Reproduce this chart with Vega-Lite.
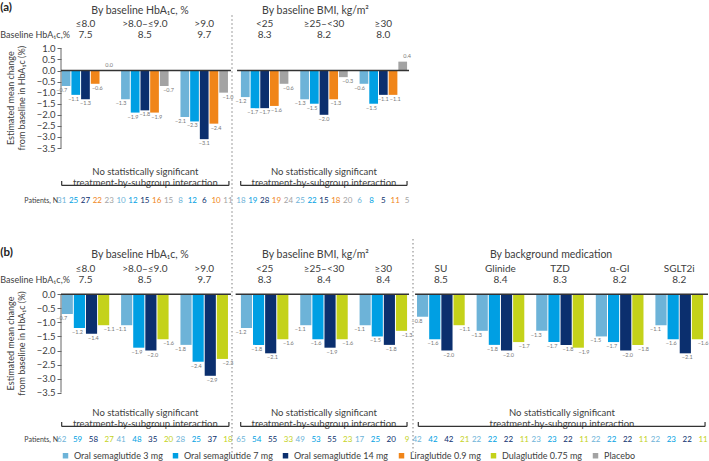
{
"$schema":"https://vega.github.io/schema/vega-lite/v6.json",
"padding":0,
"spacing":0,
"config":{"font":"Lato","view":{"stroke":null},"concat":{"spacing":0}},
"datasets":{
"one":[{}],
"a1":[
{"g":"≤8.0","b":"7.5","t":"Oral semaglutide 3 mg","v":-0.7,"n":31},
{"g":"≤8.0","b":"7.5","t":"Oral semaglutide 7 mg","v":-1.1,"n":25},
{"g":"≤8.0","b":"7.5","t":"Oral semaglutide 14 mg","v":-1.3,"n":27},
{"g":"≤8.0","b":"7.5","t":"Liraglutide 0.9 mg","v":-0.6,"n":22},
{"g":"≤8.0","b":"7.5","t":"Placebo","v":0.0,"n":23},
{"g":">8.0–≤9.0","b":"8.5","t":"Oral semaglutide 3 mg","v":-1.3,"n":10},
{"g":">8.0–≤9.0","b":"8.5","t":"Oral semaglutide 7 mg","v":-1.9,"n":12},
{"g":">8.0–≤9.0","b":"8.5","t":"Oral semaglutide 14 mg","v":-1.8,"n":15},
{"g":">8.0–≤9.0","b":"8.5","t":"Liraglutide 0.9 mg","v":-1.9,"n":16},
{"g":">8.0–≤9.0","b":"8.5","t":"Placebo","v":-0.7,"n":15},
{"g":">9.0","b":"9.7","t":"Oral semaglutide 3 mg","v":-2.1,"n":8},
{"g":">9.0","b":"9.7","t":"Oral semaglutide 7 mg","v":-2.3,"n":12},
{"g":">9.0","b":"9.7","t":"Oral semaglutide 14 mg","v":-3.1,"n":6},
{"g":">9.0","b":"9.7","t":"Liraglutide 0.9 mg","v":-2.4,"n":10},
{"g":">9.0","b":"9.7","t":"Placebo","v":-1.0,"n":11}],
"a2":[
{"g":"<25","b":"8.3","t":"Oral semaglutide 3 mg","v":-1.2,"n":18},
{"g":"<25","b":"8.3","t":"Oral semaglutide 7 mg","v":-1.7,"n":19},
{"g":"<25","b":"8.3","t":"Oral semaglutide 14 mg","v":-1.7,"n":28},
{"g":"<25","b":"8.3","t":"Liraglutide 0.9 mg","v":-1.6,"n":19},
{"g":"<25","b":"8.3","t":"Placebo","v":-0.6,"n":24},
{"g":"≥25–<30","b":"8.2","t":"Oral semaglutide 3 mg","v":-1.3,"n":25},
{"g":"≥25–<30","b":"8.2","t":"Oral semaglutide 7 mg","v":-1.5,"n":22},
{"g":"≥25–<30","b":"8.2","t":"Oral semaglutide 14 mg","v":-2.0,"n":15},
{"g":"≥25–<30","b":"8.2","t":"Liraglutide 0.9 mg","v":-1.3,"n":18},
{"g":"≥25–<30","b":"8.2","t":"Placebo","v":-0.3,"n":20},
{"g":"≥30","b":"8.0","t":"Oral semaglutide 3 mg","v":-0.6,"n":6},
{"g":"≥30","b":"8.0","t":"Oral semaglutide 7 mg","v":-1.5,"n":8},
{"g":"≥30","b":"8.0","t":"Oral semaglutide 14 mg","v":-1.1,"n":5},
{"g":"≥30","b":"8.0","t":"Liraglutide 0.9 mg","v":-1.1,"n":11},
{"g":"≥30","b":"8.0","t":"Placebo","v":0.4,"n":5}],
"b1":[
{"g":"≤8.0","b":"7.5","t":"Oral semaglutide 3 mg","v":-0.7,"n":62},
{"g":"≤8.0","b":"7.5","t":"Oral semaglutide 7 mg","v":-1.2,"n":59},
{"g":"≤8.0","b":"7.5","t":"Oral semaglutide 14 mg","v":-1.4,"n":58},
{"g":"≤8.0","b":"7.5","t":"Dulaglutide 0.75 mg","v":-1.1,"n":27},
{"g":">8.0–≤9.0","b":"8.5","t":"Oral semaglutide 3 mg","v":-1.1,"n":41},
{"g":">8.0–≤9.0","b":"8.5","t":"Oral semaglutide 7 mg","v":-1.9,"n":48},
{"g":">8.0–≤9.0","b":"8.5","t":"Oral semaglutide 14 mg","v":-2.0,"n":35},
{"g":">8.0–≤9.0","b":"8.5","t":"Dulaglutide 0.75 mg","v":-1.6,"n":20},
{"g":">9.0","b":"9.7","t":"Oral semaglutide 3 mg","v":-1.8,"n":28},
{"g":">9.0","b":"9.7","t":"Oral semaglutide 7 mg","v":-2.4,"n":25},
{"g":">9.0","b":"9.7","t":"Oral semaglutide 14 mg","v":-2.9,"n":37},
{"g":">9.0","b":"9.7","t":"Dulaglutide 0.75 mg","v":-2.3,"n":18}],
"b2":[
{"g":"<25","b":"8.3","t":"Oral semaglutide 3 mg","v":-1.2,"n":65},
{"g":"<25","b":"8.3","t":"Oral semaglutide 7 mg","v":-1.8,"n":54},
{"g":"<25","b":"8.3","t":"Oral semaglutide 14 mg","v":-2.1,"n":55},
{"g":"<25","b":"8.3","t":"Dulaglutide 0.75 mg","v":-1.6,"n":33},
{"g":"≥25–<30","b":"8.4","t":"Oral semaglutide 3 mg","v":-1.1,"n":49},
{"g":"≥25–<30","b":"8.4","t":"Oral semaglutide 7 mg","v":-1.6,"n":53},
{"g":"≥25–<30","b":"8.4","t":"Oral semaglutide 14 mg","v":-1.9,"n":55},
{"g":"≥25–<30","b":"8.4","t":"Dulaglutide 0.75 mg","v":-1.6,"n":23},
{"g":"≥30","b":"8.4","t":"Oral semaglutide 3 mg","v":-1.1,"n":17},
{"g":"≥30","b":"8.4","t":"Oral semaglutide 7 mg","v":-1.5,"n":25},
{"g":"≥30","b":"8.4","t":"Oral semaglutide 14 mg","v":-1.8,"n":20},
{"g":"≥30","b":"8.4","t":"Dulaglutide 0.75 mg","v":-1.3,"n":9}],
"b3":[
{"g":"SU","b":"8.5","t":"Oral semaglutide 3 mg","v":-0.8,"n":42},
{"g":"SU","b":"8.5","t":"Oral semaglutide 7 mg","v":-1.6,"n":42},
{"g":"SU","b":"8.5","t":"Oral semaglutide 14 mg","v":-2.0,"n":42},
{"g":"SU","b":"8.5","t":"Dulaglutide 0.75 mg","v":-1.1,"n":21},
{"g":"Glinide","b":"8.4","t":"Oral semaglutide 3 mg","v":-1.3,"n":22},
{"g":"Glinide","b":"8.4","t":"Oral semaglutide 7 mg","v":-1.8,"n":22},
{"g":"Glinide","b":"8.4","t":"Oral semaglutide 14 mg","v":-2.0,"n":22},
{"g":"Glinide","b":"8.4","t":"Dulaglutide 0.75 mg","v":-1.7,"n":11},
{"g":"TZD","b":"8.3","t":"Oral semaglutide 3 mg","v":-1.3,"n":23},
{"g":"TZD","b":"8.3","t":"Oral semaglutide 7 mg","v":-1.7,"n":23},
{"g":"TZD","b":"8.3","t":"Oral semaglutide 14 mg","v":-1.8,"n":22},
{"g":"TZD","b":"8.3","t":"Dulaglutide 0.75 mg","v":-1.9,"n":11},
{"g":"α-GI","b":"8.2","t":"Oral semaglutide 3 mg","v":-1.5,"n":22},
{"g":"α-GI","b":"8.2","t":"Oral semaglutide 7 mg","v":-1.7,"n":22},
{"g":"α-GI","b":"8.2","t":"Oral semaglutide 14 mg","v":-2.0,"n":22},
{"g":"α-GI","b":"8.2","t":"Dulaglutide 0.75 mg","v":-1.8,"n":11},
{"g":"SGLT2i","b":"8.2","t":"Oral semaglutide 3 mg","v":-1.1,"n":22},
{"g":"SGLT2i","b":"8.2","t":"Oral semaglutide 7 mg","v":-1.6,"n":23},
{"g":"SGLT2i","b":"8.2","t":"Oral semaglutide 14 mg","v":-2.1,"n":22},
{"g":"SGLT2i","b":"8.2","t":"Dulaglutide 0.75 mg","v":-1.6,"n":11}]
},
"vconcat":[
{"bounds":"flush","spacing":0,"hconcat":[
{"width":171,"height":237,"data":{"name":"a1"},
"resolve":{"scale":{"x":"independent","xOffset":"independent"}},
"layer":[
{"mark":{"type":"bar"},"encoding":{
"x":{"field":"g","type":"nominal","sort":null,"scale":{"type":"band","domain":["≤8.0",">8.0–≤9.0",">9.0"],"paddingInner":0.2,"paddingOuter":0.04,"align":0.15},"axis":null},
"xOffset":{"field":"t","type":"nominal","scale":{"domain":["Oral semaglutide 3 mg","Oral semaglutide 7 mg","Oral semaglutide 14 mg","Liraglutide 0.9 mg","Placebo"],"paddingInner":0.1,"paddingOuter":0}},
"y":{"field":"v","type":"quantitative","scale":{"domain":[-7.517,3.183],"nice":false,"zero":false},"axis":{"values":[1,0.5,0,-0.5,-1,-1.5,-2,-2.5,-3,-3.5],"format":".1f","title":null,"domain":false,"grid":false,"tickSize":4,"tickColor":"#666","labelFontSize":9.5,"labelColor":"#404040","labelPadding":2}},
"y2":{"datum":0},
"color":{"field":"t","type":"nominal","scale":{"domain":["Oral semaglutide 3 mg","Oral semaglutide 7 mg","Oral semaglutide 14 mg","Liraglutide 0.9 mg","Dulaglutide 0.75 mg","Placebo"],"range":["#6db3d8","#009fe3","#0b2f6e","#f08519","#c4d21a","#a3a3a3"]},
"legend":{"orient":"none","legendX":0,"legendY":451,"direction":"horizontal","columns":6,"title":null,"symbolType":"square","symbolSize":30,"labelFontSize":9,"labelColor":"#404040","columnPadding":8,"labelOffset":4,"labelLimit":0}}}},
{"data":{"name":"one"},"mark":{"type":"rule","color":"#666","strokeWidth":1},"encoding":{"x":{"datum":0,"type":"quantitative","scale":{"domain":[0,1],"nice":false,"zero":false},"axis":null},"y":{"datum":1.0,"type":"quantitative","scale":{"domain":[-7.517,3.183],"nice":false,"zero":false},"axis":{"values":[1,0.5,0,-0.5,-1,-1.5,-2,-2.5,-3,-3.5],"format":".1f","title":null,"domain":false,"grid":false,"tickSize":4,"tickColor":"#666","labelFontSize":9.5,"labelColor":"#404040","labelPadding":2}},"y2":{"datum":-3.5}}},
{"data":{"name":"one"},"mark":{"type":"rule","color":"#333","strokeWidth":1.5},"encoding":{"x":{"datum":0,"type":"quantitative","scale":{"domain":[0,1],"nice":false,"zero":false},"axis":null},"x2":{"datum":0.994},"y":{"datum":0,"type":"quantitative","scale":{"domain":[-7.517,3.183],"nice":false,"zero":false},"axis":{"values":[1,0.5,0,-0.5,-1,-1.5,-2,-2.5,-3,-3.5],"format":".1f","title":null,"domain":false,"grid":false,"tickSize":4,"tickColor":"#666","labelFontSize":9.5,"labelColor":"#404040","labelPadding":2}}}},
{"transform":[{"filter":"datum.v < 0"}],"mark":{"type":"text","baseline":"top","dy":2,"fontSize":5.5,"color":"#777"},"encoding":{
"x":{"field":"g","type":"nominal","sort":null,"scale":{"type":"band","domain":["≤8.0",">8.0–≤9.0",">9.0"],"paddingInner":0.2,"paddingOuter":0.04,"align":0.15},"axis":null},
"xOffset":{"field":"t","type":"nominal","scale":{"domain":["Oral semaglutide 3 mg","Oral semaglutide 7 mg","Oral semaglutide 14 mg","Liraglutide 0.9 mg","Placebo"],"paddingInner":0.1,"paddingOuter":0}},
"y":{"field":"v","type":"quantitative","scale":{"domain":[-7.517,3.183],"nice":false,"zero":false},"axis":{"values":[1,0.5,0,-0.5,-1,-1.5,-2,-2.5,-3,-3.5],"format":".1f","title":null,"domain":false,"grid":false,"tickSize":4,"tickColor":"#666","labelFontSize":9.5,"labelColor":"#404040","labelPadding":2}},
"text":{"field":"v","type":"quantitative","format":".1f"}}},
{"transform":[{"filter":"datum.v >= 0"}],"mark":{"type":"text","baseline":"bottom","dy":-3,"fontSize":5.5,"color":"#777"},"encoding":{
"x":{"field":"g","type":"nominal","sort":null,"scale":{"type":"band","domain":["≤8.0",">8.0–≤9.0",">9.0"],"paddingInner":0.2,"paddingOuter":0.04,"align":0.15},"axis":null},
"xOffset":{"field":"t","type":"nominal","scale":{"domain":["Oral semaglutide 3 mg","Oral semaglutide 7 mg","Oral semaglutide 14 mg","Liraglutide 0.9 mg","Placebo"],"paddingInner":0.1,"paddingOuter":0}},
"y":{"field":"v","type":"quantitative","scale":{"domain":[-7.517,3.183],"nice":false,"zero":false},"axis":{"values":[1,0.5,0,-0.5,-1,-1.5,-2,-2.5,-3,-3.5],"format":".1f","title":null,"domain":false,"grid":false,"tickSize":4,"tickColor":"#666","labelFontSize":9.5,"labelColor":"#404040","labelPadding":2}},
"text":{"field":"v","type":"quantitative","format":".1f"}}},
{"transform":[{"filter":"datum.t === 'Oral semaglutide 3 mg'"}],"mark":{"type":"text","fontSize":10,"color":"#404040"},"encoding":{
"x":{"field":"g","type":"nominal","sort":null,"scale":{"type":"band","domain":["≤8.0",">8.0–≤9.0",">9.0"],"paddingInner":0.2,"paddingOuter":0.04,"align":0.15},"axis":null},
"y":{"datum":2.09,"type":"quantitative","scale":{"domain":[-7.517,3.183],"nice":false,"zero":false},"axis":{"values":[1,0.5,0,-0.5,-1,-1.5,-2,-2.5,-3,-3.5],"format":".1f","title":null,"domain":false,"grid":false,"tickSize":4,"tickColor":"#666","labelFontSize":9.5,"labelColor":"#404040","labelPadding":2}},
"text":{"field":"g","type":"nominal"}}},
{"transform":[{"filter":"datum.t === 'Oral semaglutide 3 mg'"}],"mark":{"type":"text","fontSize":10,"color":"#404040"},"encoding":{
"x":{"field":"g","type":"nominal","sort":null,"scale":{"type":"band","domain":["≤8.0",">8.0–≤9.0",">9.0"],"paddingInner":0.2,"paddingOuter":0.04,"align":0.15},"axis":null},
"y":{"datum":1.6,"type":"quantitative","scale":{"domain":[-7.517,3.183],"nice":false,"zero":false},"axis":{"values":[1,0.5,0,-0.5,-1,-1.5,-2,-2.5,-3,-3.5],"format":".1f","title":null,"domain":false,"grid":false,"tickSize":4,"tickColor":"#666","labelFontSize":9.5,"labelColor":"#404040","labelPadding":2}},
"text":{"field":"b","type":"nominal"}}},
{"data":{"name":"one"},"mark":{"type":"text","fontSize":10.5,"color":"#404040","text":"By baseline HbA₁c, %"},"encoding":{"x":{"datum":0.462,"type":"quantitative","scale":{"domain":[0,1],"nice":false,"zero":false},"axis":null},"y":{"datum":2.7,"type":"quantitative","scale":{"domain":[-7.517,3.183],"nice":false,"zero":false},"axis":{"values":[1,0.5,0,-0.5,-1,-1.5,-2,-2.5,-3,-3.5],"format":".1f","title":null,"domain":false,"grid":false,"tickSize":4,"tickColor":"#666","labelFontSize":9.5,"labelColor":"#404040","labelPadding":2}}}},
{"data":{"name":"one"},"mark":{"type":"text","fontSize":9.5,"color":"#404040","lineBreak":"\n","lineHeight":11.5,"text":"No statistically significant\ntreatment-by-subgroup interaction"},"encoding":{"x":{"datum":0.493,"type":"quantitative","scale":{"domain":[0,1],"nice":false,"zero":false},"axis":null},"y":{"datum":-4.57,"type":"quantitative","scale":{"domain":[-7.517,3.183],"nice":false,"zero":false},"axis":{"values":[1,0.5,0,-0.5,-1,-1.5,-2,-2.5,-3,-3.5],"format":".1f","title":null,"domain":false,"grid":false,"tickSize":4,"tickColor":"#666","labelFontSize":9.5,"labelColor":"#404040","labelPadding":2}}}},
{"data":{"name":"one"},"mark":{"type":"rule","color":"#333","strokeWidth":1.2},"encoding":{"x":{"datum":0.004,"type":"quantitative","scale":{"domain":[0,1],"nice":false,"zero":false},"axis":null},"x2":{"datum":0.982},"y":{"datum":-5.19,"type":"quantitative","scale":{"domain":[-7.517,3.183],"nice":false,"zero":false},"axis":{"values":[1,0.5,0,-0.5,-1,-1.5,-2,-2.5,-3,-3.5],"format":".1f","title":null,"domain":false,"grid":false,"tickSize":4,"tickColor":"#666","labelFontSize":9.5,"labelColor":"#404040","labelPadding":2}}}},
{"data":{"name":"one"},"mark":{"type":"rule","color":"#333","strokeWidth":1.2},"encoding":{"x":{"datum":0.004,"type":"quantitative","scale":{"domain":[0,1],"nice":false,"zero":false},"axis":null},"y":{"datum":-5.19,"type":"quantitative","scale":{"domain":[-7.517,3.183],"nice":false,"zero":false},"axis":{"values":[1,0.5,0,-0.5,-1,-1.5,-2,-2.5,-3,-3.5],"format":".1f","title":null,"domain":false,"grid":false,"tickSize":4,"tickColor":"#666","labelFontSize":9.5,"labelColor":"#404040","labelPadding":2}},"y2":{"datum":-4.99}}},
{"data":{"name":"one"},"mark":{"type":"rule","color":"#333","strokeWidth":1.2},"encoding":{"x":{"datum":0.982,"type":"quantitative","scale":{"domain":[0,1],"nice":false,"zero":false},"axis":null},"y":{"datum":-5.19,"type":"quantitative","scale":{"domain":[-7.517,3.183],"nice":false,"zero":false},"axis":{"values":[1,0.5,0,-0.5,-1,-1.5,-2,-2.5,-3,-3.5],"format":".1f","title":null,"domain":false,"grid":false,"tickSize":4,"tickColor":"#666","labelFontSize":9.5,"labelColor":"#404040","labelPadding":2}},"y2":{"datum":-4.99}}},
{"mark":{"type":"text","fontSize":8},"encoding":{
"x":{"field":"g","type":"nominal","sort":null,"scale":{"type":"band","domain":["≤8.0",">8.0–≤9.0",">9.0"],"paddingInner":0.2,"paddingOuter":0.04,"align":0.15},"axis":null},
"xOffset":{"field":"t","type":"nominal","scale":{"domain":["Oral semaglutide 3 mg","Oral semaglutide 7 mg","Oral semaglutide 14 mg","Liraglutide 0.9 mg","Placebo"],"paddingInner":0.1,"paddingOuter":0}},
"y":{"datum":-5.88,"type":"quantitative","scale":{"domain":[-7.517,3.183],"nice":false,"zero":false},"axis":{"values":[1,0.5,0,-0.5,-1,-1.5,-2,-2.5,-3,-3.5],"format":".1f","title":null,"domain":false,"grid":false,"tickSize":4,"tickColor":"#666","labelFontSize":9.5,"labelColor":"#404040","labelPadding":2}},
"text":{"field":"n","type":"nominal"},
"color":{"field":"t","type":"nominal","scale":{"domain":["Oral semaglutide 3 mg","Oral semaglutide 7 mg","Oral semaglutide 14 mg","Liraglutide 0.9 mg","Dulaglutide 0.75 mg","Placebo"],"range":["#6db3d8","#009fe3","#0b2f6e","#f08519","#c4d21a","#a3a3a3"]},"legend":null}}},
{"data":{"name":"one"},"mark":{"type":"text","align":"left","fontSize":11.5,"fontWeight":"bold","color":"#222","text":"(a)"},"encoding":{"x":{"datum":-0.355,"type":"quantitative","scale":{"domain":[0,1],"nice":false,"zero":false},"axis":null},"y":{"datum":2.82,"type":"quantitative","scale":{"domain":[-7.517,3.183],"nice":false,"zero":false},"axis":{"values":[1,0.5,0,-0.5,-1,-1.5,-2,-2.5,-3,-3.5],"format":".1f","title":null,"domain":false,"grid":false,"tickSize":4,"tickColor":"#666","labelFontSize":9.5,"labelColor":"#404040","labelPadding":2}}}},
{"data":{"name":"one"},"mark":{"type":"text","align":"left","fontSize":9,"color":"#404040","text":"Baseline HbA₁c,%"},"encoding":{"x":{"datum":-0.355,"type":"quantitative","scale":{"domain":[0,1],"nice":false,"zero":false},"axis":null},"y":{"datum":1.6,"type":"quantitative","scale":{"domain":[-7.517,3.183],"nice":false,"zero":false},"axis":{"values":[1,0.5,0,-0.5,-1,-1.5,-2,-2.5,-3,-3.5],"format":".1f","title":null,"domain":false,"grid":false,"tickSize":4,"tickColor":"#666","labelFontSize":9.5,"labelColor":"#404040","labelPadding":2}}}},
{"data":{"name":"one"},"mark":{"type":"text","angle":270,"fontSize":9,"color":"#404040","text":"Estimated mean change"},"encoding":{"x":{"datum":-0.294,"type":"quantitative","scale":{"domain":[0,1],"nice":false,"zero":false},"axis":null},"y":{"datum":-1.25,"type":"quantitative","scale":{"domain":[-7.517,3.183],"nice":false,"zero":false},"axis":{"values":[1,0.5,0,-0.5,-1,-1.5,-2,-2.5,-3,-3.5],"format":".1f","title":null,"domain":false,"grid":false,"tickSize":4,"tickColor":"#666","labelFontSize":9.5,"labelColor":"#404040","labelPadding":2}}}},
{"data":{"name":"one"},"mark":{"type":"text","angle":270,"fontSize":9,"color":"#404040","text":"from baseline in HbA₁c (%)"},"encoding":{"x":{"datum":-0.23,"type":"quantitative","scale":{"domain":[0,1],"nice":false,"zero":false},"axis":null},"y":{"datum":-1.25,"type":"quantitative","scale":{"domain":[-7.517,3.183],"nice":false,"zero":false},"axis":{"values":[1,0.5,0,-0.5,-1,-1.5,-2,-2.5,-3,-3.5],"format":".1f","title":null,"domain":false,"grid":false,"tickSize":4,"tickColor":"#666","labelFontSize":9.5,"labelColor":"#404040","labelPadding":2}}}},
{"data":{"name":"one"},"mark":{"type":"text","align":"right","fontSize":7,"color":"#404040","text":"Patients, N"},"encoding":{"x":{"datum":-0.0175,"type":"quantitative","scale":{"domain":[0,1],"nice":false,"zero":false},"axis":null},"y":{"datum":-5.88,"type":"quantitative","scale":{"domain":[-7.517,3.183],"nice":false,"zero":false},"axis":{"values":[1,0.5,0,-0.5,-1,-1.5,-2,-2.5,-3,-3.5],"format":".1f","title":null,"domain":false,"grid":false,"tickSize":4,"tickColor":"#666","labelFontSize":9.5,"labelColor":"#404040","labelPadding":2}}}}
]},
{"width":181,"height":237,"data":{"name":"a2"},
"resolve":{"scale":{"x":"independent","xOffset":"independent"}},
"layer":[
{"data":{"name":"one"},"mark":{"type":"rule","color":"#aaa","strokeWidth":1.5,"strokeDash":[1.5,2.5]},"encoding":{"x":{"datum":0,"type":"quantitative","scale":{"domain":[0,1],"nice":false,"zero":false},"axis":null},"y":{"datum":2.5,"type":"quantitative","scale":{"domain":[-7.517,3.183],"nice":false,"zero":false},"axis":null},"y2":{"datum":-7.517}}},
{"mark":{"type":"bar"},"encoding":{
"x":{"field":"g","type":"nominal","sort":null,"scale":{"type":"band","domain":["<25","≥25–<30","≥30"],"paddingInner":0.2,"paddingOuter":0.125,"align":0.6},"axis":null},
"xOffset":{"field":"t","type":"nominal","scale":{"domain":["Oral semaglutide 3 mg","Oral semaglutide 7 mg","Oral semaglutide 14 mg","Liraglutide 0.9 mg","Placebo"],"paddingInner":0.1,"paddingOuter":0}},
"y":{"field":"v","type":"quantitative","scale":{"domain":[-7.517,3.183],"nice":false,"zero":false},"axis":null},
"y2":{"datum":0},
"color":{"field":"t","type":"nominal","scale":{"domain":["Oral semaglutide 3 mg","Oral semaglutide 7 mg","Oral semaglutide 14 mg","Liraglutide 0.9 mg","Dulaglutide 0.75 mg","Placebo"],"range":["#6db3d8","#009fe3","#0b2f6e","#f08519","#c4d21a","#a3a3a3"]},"legend":null}}},
{"data":{"name":"one"},"mark":{"type":"rule","color":"#333","strokeWidth":1.5},"encoding":{"x":{"datum":0.028,"type":"quantitative","scale":{"domain":[0,1],"nice":false,"zero":false},"axis":null},"x2":{"datum":0.978},"y":{"datum":0,"type":"quantitative","scale":{"domain":[-7.517,3.183],"nice":false,"zero":false},"axis":null}}},
{"transform":[{"filter":"datum.v < 0"}],"mark":{"type":"text","baseline":"top","dy":2,"fontSize":5.5,"color":"#777"},"encoding":{
"x":{"field":"g","type":"nominal","sort":null,"scale":{"type":"band","domain":["<25","≥25–<30","≥30"],"paddingInner":0.2,"paddingOuter":0.125,"align":0.6},"axis":null},
"xOffset":{"field":"t","type":"nominal","scale":{"domain":["Oral semaglutide 3 mg","Oral semaglutide 7 mg","Oral semaglutide 14 mg","Liraglutide 0.9 mg","Placebo"],"paddingInner":0.1,"paddingOuter":0}},
"y":{"field":"v","type":"quantitative","scale":{"domain":[-7.517,3.183],"nice":false,"zero":false},"axis":null},
"text":{"field":"v","type":"quantitative","format":".1f"}}},
{"transform":[{"filter":"datum.v >= 0"}],"mark":{"type":"text","baseline":"bottom","dy":-3,"fontSize":5.5,"color":"#777"},"encoding":{
"x":{"field":"g","type":"nominal","sort":null,"scale":{"type":"band","domain":["<25","≥25–<30","≥30"],"paddingInner":0.2,"paddingOuter":0.125,"align":0.6},"axis":null},
"xOffset":{"field":"t","type":"nominal","scale":{"domain":["Oral semaglutide 3 mg","Oral semaglutide 7 mg","Oral semaglutide 14 mg","Liraglutide 0.9 mg","Placebo"],"paddingInner":0.1,"paddingOuter":0}},
"y":{"field":"v","type":"quantitative","scale":{"domain":[-7.517,3.183],"nice":false,"zero":false},"axis":null},
"text":{"field":"v","type":"quantitative","format":".1f"}}},
{"transform":[{"filter":"datum.t === 'Oral semaglutide 3 mg'"}],"mark":{"type":"text","fontSize":10,"color":"#404040"},"encoding":{
"x":{"field":"g","type":"nominal","sort":null,"scale":{"type":"band","domain":["<25","≥25–<30","≥30"],"paddingInner":0.2,"paddingOuter":0.125,"align":0.6},"axis":null},
"y":{"datum":2.09,"type":"quantitative","scale":{"domain":[-7.517,3.183],"nice":false,"zero":false},"axis":null},
"text":{"field":"g","type":"nominal"}}},
{"transform":[{"filter":"datum.t === 'Oral semaglutide 3 mg'"}],"mark":{"type":"text","fontSize":10,"color":"#404040"},"encoding":{
"x":{"field":"g","type":"nominal","sort":null,"scale":{"type":"band","domain":["<25","≥25–<30","≥30"],"paddingInner":0.2,"paddingOuter":0.125,"align":0.6},"axis":null},
"y":{"datum":1.6,"type":"quantitative","scale":{"domain":[-7.517,3.183],"nice":false,"zero":false},"axis":null},
"text":{"field":"b","type":"nominal"}}},
{"data":{"name":"one"},"mark":{"type":"text","fontSize":10.5,"color":"#404040","text":"By baseline BMI, kg/m²"},"encoding":{"x":{"datum":0.461,"type":"quantitative","scale":{"domain":[0,1],"nice":false,"zero":false},"axis":null},"y":{"datum":2.7,"type":"quantitative","scale":{"domain":[-7.517,3.183],"nice":false,"zero":false},"axis":null}}},
{"data":{"name":"one"},"mark":{"type":"text","fontSize":9.5,"color":"#404040","lineBreak":"\n","lineHeight":11.5,"text":"No statistically significant\ntreatment-by-subgroup interaction"},"encoding":{"x":{"datum":0.508,"type":"quantitative","scale":{"domain":[0,1],"nice":false,"zero":false},"axis":null},"y":{"datum":-4.57,"type":"quantitative","scale":{"domain":[-7.517,3.183],"nice":false,"zero":false},"axis":null}}},
{"data":{"name":"one"},"mark":{"type":"rule","color":"#333","strokeWidth":1.2},"encoding":{"x":{"datum":0.048,"type":"quantitative","scale":{"domain":[0,1],"nice":false,"zero":false},"axis":null},"x2":{"datum":0.967},"y":{"datum":-5.19,"type":"quantitative","scale":{"domain":[-7.517,3.183],"nice":false,"zero":false},"axis":null}}},
{"data":{"name":"one"},"mark":{"type":"rule","color":"#333","strokeWidth":1.2},"encoding":{"x":{"datum":0.048,"type":"quantitative","scale":{"domain":[0,1],"nice":false,"zero":false},"axis":null},"y":{"datum":-5.19,"type":"quantitative","scale":{"domain":[-7.517,3.183],"nice":false,"zero":false},"axis":null},"y2":{"datum":-4.99}}},
{"data":{"name":"one"},"mark":{"type":"rule","color":"#333","strokeWidth":1.2},"encoding":{"x":{"datum":0.967,"type":"quantitative","scale":{"domain":[0,1],"nice":false,"zero":false},"axis":null},"y":{"datum":-5.19,"type":"quantitative","scale":{"domain":[-7.517,3.183],"nice":false,"zero":false},"axis":null},"y2":{"datum":-4.99}}},
{"mark":{"type":"text","fontSize":8},"encoding":{
"x":{"field":"g","type":"nominal","sort":null,"scale":{"type":"band","domain":["<25","≥25–<30","≥30"],"paddingInner":0.2,"paddingOuter":0.125,"align":0.6},"axis":null},
"xOffset":{"field":"t","type":"nominal","scale":{"domain":["Oral semaglutide 3 mg","Oral semaglutide 7 mg","Oral semaglutide 14 mg","Liraglutide 0.9 mg","Placebo"],"paddingInner":0.1,"paddingOuter":0}},
"y":{"datum":-5.88,"type":"quantitative","scale":{"domain":[-7.517,3.183],"nice":false,"zero":false},"axis":null},
"text":{"field":"n","type":"nominal"},
"color":{"field":"t","type":"nominal","scale":{"domain":["Oral semaglutide 3 mg","Oral semaglutide 7 mg","Oral semaglutide 14 mg","Liraglutide 0.9 mg","Dulaglutide 0.75 mg","Placebo"],"range":["#6db3d8","#009fe3","#0b2f6e","#f08519","#c4d21a","#a3a3a3"]},"legend":null}}}
]}
]},
{"bounds":"flush","spacing":0,"hconcat":[
{"width":171,"height":215,"data":{"name":"b1"},
"resolve":{"scale":{"x":"independent","xOffset":"independent"}},
"layer":[
{"mark":{"type":"bar"},"encoding":{
"x":{"field":"g","type":"nominal","sort":null,"scale":{"type":"band","domain":["≤8.0",">8.0–≤9.0",">9.0"],"paddingInner":0.2,"paddingOuter":0.04,"align":0.15},"axis":null},
"xOffset":{"field":"t","type":"nominal","scale":{"domain":["Oral semaglutide 3 mg","Oral semaglutide 7 mg","Oral semaglutide 14 mg","Dulaglutide 0.75 mg"],"paddingInner":0.08,"paddingOuter":0}},
"y":{"field":"v","type":"quantitative","scale":{"domain":[-5.683,1.968],"nice":false,"zero":false},"axis":{"values":[0,-0.5,-1,-1.5,-2,-2.5,-3,-3.5],"format":".1f","title":null,"domain":false,"grid":false,"tickSize":4,"tickColor":"#666","labelFontSize":9.5,"labelColor":"#404040","labelPadding":2}},
"y2":{"datum":0},
"color":{"field":"t","type":"nominal","scale":{"domain":["Oral semaglutide 3 mg","Oral semaglutide 7 mg","Oral semaglutide 14 mg","Liraglutide 0.9 mg","Dulaglutide 0.75 mg","Placebo"],"range":["#6db3d8","#009fe3","#0b2f6e","#f08519","#c4d21a","#a3a3a3"]},"legend":null}}},
{"data":{"name":"one"},"mark":{"type":"rule","color":"#666","strokeWidth":1},"encoding":{"x":{"datum":0,"type":"quantitative","scale":{"domain":[0,1],"nice":false,"zero":false},"axis":null},"y":{"datum":0,"type":"quantitative","scale":{"domain":[-5.683,1.968],"nice":false,"zero":false},"axis":{"values":[0,-0.5,-1,-1.5,-2,-2.5,-3,-3.5],"format":".1f","title":null,"domain":false,"grid":false,"tickSize":4,"tickColor":"#666","labelFontSize":9.5,"labelColor":"#404040","labelPadding":2}},"y2":{"datum":-3.5}}},
{"data":{"name":"one"},"mark":{"type":"rule","color":"#333","strokeWidth":1.5},"encoding":{"x":{"datum":0,"type":"quantitative","scale":{"domain":[0,1],"nice":false,"zero":false},"axis":null},"x2":{"datum":0.994},"y":{"datum":0,"type":"quantitative","scale":{"domain":[-5.683,1.968],"nice":false,"zero":false},"axis":{"values":[0,-0.5,-1,-1.5,-2,-2.5,-3,-3.5],"format":".1f","title":null,"domain":false,"grid":false,"tickSize":4,"tickColor":"#666","labelFontSize":9.5,"labelColor":"#404040","labelPadding":2}}}},
{"mark":{"type":"text","baseline":"top","dy":2,"fontSize":5.5,"color":"#777"},"encoding":{
"x":{"field":"g","type":"nominal","sort":null,"scale":{"type":"band","domain":["≤8.0",">8.0–≤9.0",">9.0"],"paddingInner":0.2,"paddingOuter":0.04,"align":0.15},"axis":null},
"xOffset":{"field":"t","type":"nominal","scale":{"domain":["Oral semaglutide 3 mg","Oral semaglutide 7 mg","Oral semaglutide 14 mg","Dulaglutide 0.75 mg"],"paddingInner":0.08,"paddingOuter":0}},
"y":{"field":"v","type":"quantitative","scale":{"domain":[-5.683,1.968],"nice":false,"zero":false},"axis":{"values":[0,-0.5,-1,-1.5,-2,-2.5,-3,-3.5],"format":".1f","title":null,"domain":false,"grid":false,"tickSize":4,"tickColor":"#666","labelFontSize":9.5,"labelColor":"#404040","labelPadding":2}},
"text":{"field":"v","type":"quantitative","format":".1f"}}},
{"transform":[{"filter":"datum.t === 'Oral semaglutide 3 mg'"}],"mark":{"type":"text","fontSize":10,"color":"#404040"},"encoding":{
"x":{"field":"g","type":"nominal","sort":null,"scale":{"type":"band","domain":["≤8.0",">8.0–≤9.0",">9.0"],"paddingInner":0.2,"paddingOuter":0.04,"align":0.15},"axis":null},
"y":{"datum":0.91,"type":"quantitative","scale":{"domain":[-5.683,1.968],"nice":false,"zero":false},"axis":{"values":[0,-0.5,-1,-1.5,-2,-2.5,-3,-3.5],"format":".1f","title":null,"domain":false,"grid":false,"tickSize":4,"tickColor":"#666","labelFontSize":9.5,"labelColor":"#404040","labelPadding":2}},
"text":{"field":"g","type":"nominal"}}},
{"transform":[{"filter":"datum.t === 'Oral semaglutide 3 mg'"}],"mark":{"type":"text","fontSize":10,"color":"#404040"},"encoding":{
"x":{"field":"g","type":"nominal","sort":null,"scale":{"type":"band","domain":["≤8.0",">8.0–≤9.0",">9.0"],"paddingInner":0.2,"paddingOuter":0.04,"align":0.15},"axis":null},
"y":{"datum":0.52,"type":"quantitative","scale":{"domain":[-5.683,1.968],"nice":false,"zero":false},"axis":{"values":[0,-0.5,-1,-1.5,-2,-2.5,-3,-3.5],"format":".1f","title":null,"domain":false,"grid":false,"tickSize":4,"tickColor":"#666","labelFontSize":9.5,"labelColor":"#404040","labelPadding":2}},
"text":{"field":"b","type":"nominal"}}},
{"data":{"name":"one"},"mark":{"type":"text","fontSize":10.5,"color":"#404040","text":"By baseline HbA₁c, %"},"encoding":{"x":{"datum":0.462,"type":"quantitative","scale":{"domain":[0,1],"nice":false,"zero":false},"axis":null},"y":{"datum":1.4,"type":"quantitative","scale":{"domain":[-5.683,1.968],"nice":false,"zero":false},"axis":{"values":[0,-0.5,-1,-1.5,-2,-2.5,-3,-3.5],"format":".1f","title":null,"domain":false,"grid":false,"tickSize":4,"tickColor":"#666","labelFontSize":9.5,"labelColor":"#404040","labelPadding":2}}}},
{"data":{"name":"one"},"mark":{"type":"text","fontSize":9.5,"color":"#404040","lineBreak":"\n","lineHeight":11.5,"text":"No statistically significant\ntreatment-by-subgroup interaction"},"encoding":{"x":{"datum":0.493,"type":"quantitative","scale":{"domain":[0,1],"nice":false,"zero":false},"axis":null},"y":{"datum":-4.21,"type":"quantitative","scale":{"domain":[-5.683,1.968],"nice":false,"zero":false},"axis":{"values":[0,-0.5,-1,-1.5,-2,-2.5,-3,-3.5],"format":".1f","title":null,"domain":false,"grid":false,"tickSize":4,"tickColor":"#666","labelFontSize":9.5,"labelColor":"#404040","labelPadding":2}}}},
{"data":{"name":"one"},"mark":{"type":"rule","color":"#333","strokeWidth":1.2},"encoding":{"x":{"datum":0.004,"type":"quantitative","scale":{"domain":[0,1],"nice":false,"zero":false},"axis":null},"x2":{"datum":0.982},"y":{"datum":-4.7,"type":"quantitative","scale":{"domain":[-5.683,1.968],"nice":false,"zero":false},"axis":{"values":[0,-0.5,-1,-1.5,-2,-2.5,-3,-3.5],"format":".1f","title":null,"domain":false,"grid":false,"tickSize":4,"tickColor":"#666","labelFontSize":9.5,"labelColor":"#404040","labelPadding":2}}}},
{"data":{"name":"one"},"mark":{"type":"rule","color":"#333","strokeWidth":1.2},"encoding":{"x":{"datum":0.004,"type":"quantitative","scale":{"domain":[0,1],"nice":false,"zero":false},"axis":null},"y":{"datum":-4.7,"type":"quantitative","scale":{"domain":[-5.683,1.968],"nice":false,"zero":false},"axis":{"values":[0,-0.5,-1,-1.5,-2,-2.5,-3,-3.5],"format":".1f","title":null,"domain":false,"grid":false,"tickSize":4,"tickColor":"#666","labelFontSize":9.5,"labelColor":"#404040","labelPadding":2}},"y2":{"datum":-4.54}}},
{"data":{"name":"one"},"mark":{"type":"rule","color":"#333","strokeWidth":1.2},"encoding":{"x":{"datum":0.982,"type":"quantitative","scale":{"domain":[0,1],"nice":false,"zero":false},"axis":null},"y":{"datum":-4.7,"type":"quantitative","scale":{"domain":[-5.683,1.968],"nice":false,"zero":false},"axis":{"values":[0,-0.5,-1,-1.5,-2,-2.5,-3,-3.5],"format":".1f","title":null,"domain":false,"grid":false,"tickSize":4,"tickColor":"#666","labelFontSize":9.5,"labelColor":"#404040","labelPadding":2}},"y2":{"datum":-4.54}}},
{"mark":{"type":"text","fontSize":8},"encoding":{
"x":{"field":"g","type":"nominal","sort":null,"scale":{"type":"band","domain":["≤8.0",">8.0–≤9.0",">9.0"],"paddingInner":0.2,"paddingOuter":0.04,"align":0.15},"axis":null},
"xOffset":{"field":"t","type":"nominal","scale":{"domain":["Oral semaglutide 3 mg","Oral semaglutide 7 mg","Oral semaglutide 14 mg","Dulaglutide 0.75 mg"],"paddingInner":0.08,"paddingOuter":0}},
"y":{"datum":-5.17,"type":"quantitative","scale":{"domain":[-5.683,1.968],"nice":false,"zero":false},"axis":{"values":[0,-0.5,-1,-1.5,-2,-2.5,-3,-3.5],"format":".1f","title":null,"domain":false,"grid":false,"tickSize":4,"tickColor":"#666","labelFontSize":9.5,"labelColor":"#404040","labelPadding":2}},
"text":{"field":"n","type":"nominal"},
"color":{"field":"t","type":"nominal","scale":{"domain":["Oral semaglutide 3 mg","Oral semaglutide 7 mg","Oral semaglutide 14 mg","Liraglutide 0.9 mg","Dulaglutide 0.75 mg","Placebo"],"range":["#6db3d8","#009fe3","#0b2f6e","#f08519","#c4d21a","#a3a3a3"]},"legend":null}}},
{"data":{"name":"one"},"mark":{"type":"text","align":"left","fontSize":11.5,"fontWeight":"bold","color":"#222","text":"(b)"},"encoding":{"x":{"datum":-0.355,"type":"quantitative","scale":{"domain":[0,1],"nice":false,"zero":false},"axis":null},"y":{"datum":1.47,"type":"quantitative","scale":{"domain":[-5.683,1.968],"nice":false,"zero":false},"axis":{"values":[0,-0.5,-1,-1.5,-2,-2.5,-3,-3.5],"format":".1f","title":null,"domain":false,"grid":false,"tickSize":4,"tickColor":"#666","labelFontSize":9.5,"labelColor":"#404040","labelPadding":2}}}},
{"data":{"name":"one"},"mark":{"type":"text","align":"left","fontSize":9,"color":"#404040","text":"Baseline HbA₁c,%"},"encoding":{"x":{"datum":-0.355,"type":"quantitative","scale":{"domain":[0,1],"nice":false,"zero":false},"axis":null},"y":{"datum":0.52,"type":"quantitative","scale":{"domain":[-5.683,1.968],"nice":false,"zero":false},"axis":{"values":[0,-0.5,-1,-1.5,-2,-2.5,-3,-3.5],"format":".1f","title":null,"domain":false,"grid":false,"tickSize":4,"tickColor":"#666","labelFontSize":9.5,"labelColor":"#404040","labelPadding":2}}}},
{"data":{"name":"one"},"mark":{"type":"text","angle":270,"fontSize":9,"color":"#404040","text":"Estimated mean change"},"encoding":{"x":{"datum":-0.294,"type":"quantitative","scale":{"domain":[0,1],"nice":false,"zero":false},"axis":null},"y":{"datum":-1.75,"type":"quantitative","scale":{"domain":[-5.683,1.968],"nice":false,"zero":false},"axis":{"values":[0,-0.5,-1,-1.5,-2,-2.5,-3,-3.5],"format":".1f","title":null,"domain":false,"grid":false,"tickSize":4,"tickColor":"#666","labelFontSize":9.5,"labelColor":"#404040","labelPadding":2}}}},
{"data":{"name":"one"},"mark":{"type":"text","angle":270,"fontSize":9,"color":"#404040","text":"from baseline in HbA₁c (%)"},"encoding":{"x":{"datum":-0.23,"type":"quantitative","scale":{"domain":[0,1],"nice":false,"zero":false},"axis":null},"y":{"datum":-1.75,"type":"quantitative","scale":{"domain":[-5.683,1.968],"nice":false,"zero":false},"axis":{"values":[0,-0.5,-1,-1.5,-2,-2.5,-3,-3.5],"format":".1f","title":null,"domain":false,"grid":false,"tickSize":4,"tickColor":"#666","labelFontSize":9.5,"labelColor":"#404040","labelPadding":2}}}},
{"data":{"name":"one"},"mark":{"type":"text","align":"right","fontSize":7,"color":"#404040","text":"Patients, N"},"encoding":{"x":{"datum":-0.0175,"type":"quantitative","scale":{"domain":[0,1],"nice":false,"zero":false},"axis":null},"y":{"datum":-5.17,"type":"quantitative","scale":{"domain":[-5.683,1.968],"nice":false,"zero":false},"axis":{"values":[0,-0.5,-1,-1.5,-2,-2.5,-3,-3.5],"format":".1f","title":null,"domain":false,"grid":false,"tickSize":4,"tickColor":"#666","labelFontSize":9.5,"labelColor":"#404040","labelPadding":2}}}}
]},
{"width":181,"height":215,"data":{"name":"b2"},
"resolve":{"scale":{"x":"independent","xOffset":"independent"}},
"layer":[
{"data":{"name":"one"},"mark":{"type":"rule","color":"#aaa","strokeWidth":1.5,"strokeDash":[1.5,2.5]},"encoding":{"x":{"datum":0,"type":"quantitative","scale":{"domain":[0,1],"nice":false,"zero":false},"axis":null},"y":{"datum":1.968,"type":"quantitative","scale":{"domain":[-5.683,1.968],"nice":false,"zero":false},"axis":null},"y2":{"datum":-5.683}}},
{"mark":{"type":"bar"},"encoding":{
"x":{"field":"g","type":"nominal","sort":null,"scale":{"type":"band","domain":["<25","≥25–<30","≥30"],"paddingInner":0.2,"paddingOuter":0.125,"align":0.6},"axis":null},
"xOffset":{"field":"t","type":"nominal","scale":{"domain":["Oral semaglutide 3 mg","Oral semaglutide 7 mg","Oral semaglutide 14 mg","Dulaglutide 0.75 mg"],"paddingInner":0.08,"paddingOuter":0}},
"y":{"field":"v","type":"quantitative","scale":{"domain":[-5.683,1.968],"nice":false,"zero":false},"axis":null},
"y2":{"datum":0},
"color":{"field":"t","type":"nominal","scale":{"domain":["Oral semaglutide 3 mg","Oral semaglutide 7 mg","Oral semaglutide 14 mg","Liraglutide 0.9 mg","Dulaglutide 0.75 mg","Placebo"],"range":["#6db3d8","#009fe3","#0b2f6e","#f08519","#c4d21a","#a3a3a3"]},"legend":null}}},
{"data":{"name":"one"},"mark":{"type":"rule","color":"#333","strokeWidth":1.5},"encoding":{"x":{"datum":0.02,"type":"quantitative","scale":{"domain":[0,1],"nice":false,"zero":false},"axis":null},"x2":{"datum":0.978},"y":{"datum":0,"type":"quantitative","scale":{"domain":[-5.683,1.968],"nice":false,"zero":false},"axis":null}}},
{"mark":{"type":"text","baseline":"top","dy":2,"fontSize":5.5,"color":"#777"},"encoding":{
"x":{"field":"g","type":"nominal","sort":null,"scale":{"type":"band","domain":["<25","≥25–<30","≥30"],"paddingInner":0.2,"paddingOuter":0.125,"align":0.6},"axis":null},
"xOffset":{"field":"t","type":"nominal","scale":{"domain":["Oral semaglutide 3 mg","Oral semaglutide 7 mg","Oral semaglutide 14 mg","Dulaglutide 0.75 mg"],"paddingInner":0.08,"paddingOuter":0}},
"y":{"field":"v","type":"quantitative","scale":{"domain":[-5.683,1.968],"nice":false,"zero":false},"axis":null},
"text":{"field":"v","type":"quantitative","format":".1f"}}},
{"transform":[{"filter":"datum.t === 'Oral semaglutide 3 mg'"}],"mark":{"type":"text","fontSize":10,"color":"#404040"},"encoding":{
"x":{"field":"g","type":"nominal","sort":null,"scale":{"type":"band","domain":["<25","≥25–<30","≥30"],"paddingInner":0.2,"paddingOuter":0.125,"align":0.6},"axis":null},
"y":{"datum":0.91,"type":"quantitative","scale":{"domain":[-5.683,1.968],"nice":false,"zero":false},"axis":null},
"text":{"field":"g","type":"nominal"}}},
{"transform":[{"filter":"datum.t === 'Oral semaglutide 3 mg'"}],"mark":{"type":"text","fontSize":10,"color":"#404040"},"encoding":{
"x":{"field":"g","type":"nominal","sort":null,"scale":{"type":"band","domain":["<25","≥25–<30","≥30"],"paddingInner":0.2,"paddingOuter":0.125,"align":0.6},"axis":null},
"y":{"datum":0.52,"type":"quantitative","scale":{"domain":[-5.683,1.968],"nice":false,"zero":false},"axis":null},
"text":{"field":"b","type":"nominal"}}},
{"data":{"name":"one"},"mark":{"type":"text","fontSize":10.5,"color":"#404040","text":"By baseline BMI, kg/m²"},"encoding":{"x":{"datum":0.461,"type":"quantitative","scale":{"domain":[0,1],"nice":false,"zero":false},"axis":null},"y":{"datum":1.4,"type":"quantitative","scale":{"domain":[-5.683,1.968],"nice":false,"zero":false},"axis":null}}},
{"data":{"name":"one"},"mark":{"type":"text","fontSize":9.5,"color":"#404040","lineBreak":"\n","lineHeight":11.5,"text":"No statistically significant\ntreatment-by-subgroup interaction"},"encoding":{"x":{"datum":0.508,"type":"quantitative","scale":{"domain":[0,1],"nice":false,"zero":false},"axis":null},"y":{"datum":-4.21,"type":"quantitative","scale":{"domain":[-5.683,1.968],"nice":false,"zero":false},"axis":null}}},
{"data":{"name":"one"},"mark":{"type":"rule","color":"#333","strokeWidth":1.2},"encoding":{"x":{"datum":0.048,"type":"quantitative","scale":{"domain":[0,1],"nice":false,"zero":false},"axis":null},"x2":{"datum":0.967},"y":{"datum":-4.7,"type":"quantitative","scale":{"domain":[-5.683,1.968],"nice":false,"zero":false},"axis":null}}},
{"data":{"name":"one"},"mark":{"type":"rule","color":"#333","strokeWidth":1.2},"encoding":{"x":{"datum":0.048,"type":"quantitative","scale":{"domain":[0,1],"nice":false,"zero":false},"axis":null},"y":{"datum":-4.7,"type":"quantitative","scale":{"domain":[-5.683,1.968],"nice":false,"zero":false},"axis":null},"y2":{"datum":-4.54}}},
{"data":{"name":"one"},"mark":{"type":"rule","color":"#333","strokeWidth":1.2},"encoding":{"x":{"datum":0.967,"type":"quantitative","scale":{"domain":[0,1],"nice":false,"zero":false},"axis":null},"y":{"datum":-4.7,"type":"quantitative","scale":{"domain":[-5.683,1.968],"nice":false,"zero":false},"axis":null},"y2":{"datum":-4.54}}},
{"mark":{"type":"text","fontSize":8},"encoding":{
"x":{"field":"g","type":"nominal","sort":null,"scale":{"type":"band","domain":["<25","≥25–<30","≥30"],"paddingInner":0.2,"paddingOuter":0.125,"align":0.6},"axis":null},
"xOffset":{"field":"t","type":"nominal","scale":{"domain":["Oral semaglutide 3 mg","Oral semaglutide 7 mg","Oral semaglutide 14 mg","Dulaglutide 0.75 mg"],"paddingInner":0.08,"paddingOuter":0}},
"y":{"datum":-5.17,"type":"quantitative","scale":{"domain":[-5.683,1.968],"nice":false,"zero":false},"axis":null},
"text":{"field":"n","type":"nominal"},
"color":{"field":"t","type":"nominal","scale":{"domain":["Oral semaglutide 3 mg","Oral semaglutide 7 mg","Oral semaglutide 14 mg","Liraglutide 0.9 mg","Dulaglutide 0.75 mg","Placebo"],"range":["#6db3d8","#009fe3","#0b2f6e","#f08519","#c4d21a","#a3a3a3"]},"legend":null}}}
]},
{"width":295,"height":215,"data":{"name":"b3"},
"resolve":{"scale":{"x":"independent","xOffset":"independent"}},
"layer":[
{"data":{"name":"one"},"mark":{"type":"rule","color":"#aaa","strokeWidth":1.5,"strokeDash":[1.5,2.5]},"encoding":{"x":{"datum":0,"type":"quantitative","scale":{"domain":[0,1],"nice":false,"zero":false},"axis":null},"y":{"datum":1.968,"type":"quantitative","scale":{"domain":[-5.683,1.968],"nice":false,"zero":false},"axis":null},"y2":{"datum":-5.683}}},
{"mark":{"type":"bar"},"encoding":{
"x":{"field":"g","type":"nominal","sort":null,"scale":{"type":"band","domain":["SU","Glinide","TZD","α-GI","SGLT2i"],"paddingInner":0.2,"paddingOuter":0.075,"align":0.45},"axis":null},
"xOffset":{"field":"t","type":"nominal","scale":{"domain":["Oral semaglutide 3 mg","Oral semaglutide 7 mg","Oral semaglutide 14 mg","Dulaglutide 0.75 mg"],"paddingInner":0.08,"paddingOuter":0}},
"y":{"field":"v","type":"quantitative","scale":{"domain":[-5.683,1.968],"nice":false,"zero":false},"axis":null},
"y2":{"datum":0},
"color":{"field":"t","type":"nominal","scale":{"domain":["Oral semaglutide 3 mg","Oral semaglutide 7 mg","Oral semaglutide 14 mg","Liraglutide 0.9 mg","Dulaglutide 0.75 mg","Placebo"],"range":["#6db3d8","#009fe3","#0b2f6e","#f08519","#c4d21a","#a3a3a3"]},"legend":null}}},
{"data":{"name":"one"},"mark":{"type":"rule","color":"#333","strokeWidth":1.5},"encoding":{"x":{"datum":0.007,"type":"quantitative","scale":{"domain":[0,1],"nice":false,"zero":false},"axis":null},"x2":{"datum":1},"y":{"datum":0,"type":"quantitative","scale":{"domain":[-5.683,1.968],"nice":false,"zero":false},"axis":null}}},
{"mark":{"type":"text","baseline":"top","dy":2,"fontSize":5.5,"color":"#777"},"encoding":{
"x":{"field":"g","type":"nominal","sort":null,"scale":{"type":"band","domain":["SU","Glinide","TZD","α-GI","SGLT2i"],"paddingInner":0.2,"paddingOuter":0.075,"align":0.45},"axis":null},
"xOffset":{"field":"t","type":"nominal","scale":{"domain":["Oral semaglutide 3 mg","Oral semaglutide 7 mg","Oral semaglutide 14 mg","Dulaglutide 0.75 mg"],"paddingInner":0.08,"paddingOuter":0}},
"y":{"field":"v","type":"quantitative","scale":{"domain":[-5.683,1.968],"nice":false,"zero":false},"axis":null},
"text":{"field":"v","type":"quantitative","format":".1f"}}},
{"transform":[{"filter":"datum.t === 'Oral semaglutide 3 mg'"}],"mark":{"type":"text","fontSize":10,"color":"#404040"},"encoding":{
"x":{"field":"g","type":"nominal","sort":null,"scale":{"type":"band","domain":["SU","Glinide","TZD","α-GI","SGLT2i"],"paddingInner":0.2,"paddingOuter":0.075,"align":0.45},"axis":null},
"y":{"datum":0.91,"type":"quantitative","scale":{"domain":[-5.683,1.968],"nice":false,"zero":false},"axis":null},
"text":{"field":"g","type":"nominal"}}},
{"transform":[{"filter":"datum.t === 'Oral semaglutide 3 mg'"}],"mark":{"type":"text","fontSize":10,"color":"#404040"},"encoding":{
"x":{"field":"g","type":"nominal","sort":null,"scale":{"type":"band","domain":["SU","Glinide","TZD","α-GI","SGLT2i"],"paddingInner":0.2,"paddingOuter":0.075,"align":0.45},"axis":null},
"y":{"datum":0.52,"type":"quantitative","scale":{"domain":[-5.683,1.968],"nice":false,"zero":false},"axis":null},
"text":{"field":"b","type":"nominal"}}},
{"data":{"name":"one"},"mark":{"type":"text","fontSize":10.5,"color":"#404040","text":"By background medication"},"encoding":{"x":{"datum":0.468,"type":"quantitative","scale":{"domain":[0,1],"nice":false,"zero":false},"axis":null},"y":{"datum":1.4,"type":"quantitative","scale":{"domain":[-5.683,1.968],"nice":false,"zero":false},"axis":null}}},
{"data":{"name":"one"},"mark":{"type":"text","fontSize":9.5,"color":"#404040","lineBreak":"\n","lineHeight":11.5,"text":"No statistically significant\ntreatment-by-subgroup interaction"},"encoding":{"x":{"datum":0.505,"type":"quantitative","scale":{"domain":[0,1],"nice":false,"zero":false},"axis":null},"y":{"datum":-4.21,"type":"quantitative","scale":{"domain":[-5.683,1.968],"nice":false,"zero":false},"axis":null}}},
{"data":{"name":"one"},"mark":{"type":"rule","color":"#333","strokeWidth":1.2},"encoding":{"x":{"datum":0.018,"type":"quantitative","scale":{"domain":[0,1],"nice":false,"zero":false},"axis":null},"x2":{"datum":0.99},"y":{"datum":-4.7,"type":"quantitative","scale":{"domain":[-5.683,1.968],"nice":false,"zero":false},"axis":null}}},
{"data":{"name":"one"},"mark":{"type":"rule","color":"#333","strokeWidth":1.2},"encoding":{"x":{"datum":0.018,"type":"quantitative","scale":{"domain":[0,1],"nice":false,"zero":false},"axis":null},"y":{"datum":-4.7,"type":"quantitative","scale":{"domain":[-5.683,1.968],"nice":false,"zero":false},"axis":null},"y2":{"datum":-4.54}}},
{"data":{"name":"one"},"mark":{"type":"rule","color":"#333","strokeWidth":1.2},"encoding":{"x":{"datum":0.99,"type":"quantitative","scale":{"domain":[0,1],"nice":false,"zero":false},"axis":null},"y":{"datum":-4.7,"type":"quantitative","scale":{"domain":[-5.683,1.968],"nice":false,"zero":false},"axis":null},"y2":{"datum":-4.54}}},
{"mark":{"type":"text","fontSize":8},"encoding":{
"x":{"field":"g","type":"nominal","sort":null,"scale":{"type":"band","domain":["SU","Glinide","TZD","α-GI","SGLT2i"],"paddingInner":0.2,"paddingOuter":0.075,"align":0.45},"axis":null},
"xOffset":{"field":"t","type":"nominal","scale":{"domain":["Oral semaglutide 3 mg","Oral semaglutide 7 mg","Oral semaglutide 14 mg","Dulaglutide 0.75 mg"],"paddingInner":0.08,"paddingOuter":0}},
"y":{"datum":-5.17,"type":"quantitative","scale":{"domain":[-5.683,1.968],"nice":false,"zero":false},"axis":null},
"text":{"field":"n","type":"nominal"},
"color":{"field":"t","type":"nominal","scale":{"domain":["Oral semaglutide 3 mg","Oral semaglutide 7 mg","Oral semaglutide 14 mg","Liraglutide 0.9 mg","Dulaglutide 0.75 mg","Placebo"],"range":["#6db3d8","#009fe3","#0b2f6e","#f08519","#c4d21a","#a3a3a3"]},"legend":null}}}
]}
]}
]
}
